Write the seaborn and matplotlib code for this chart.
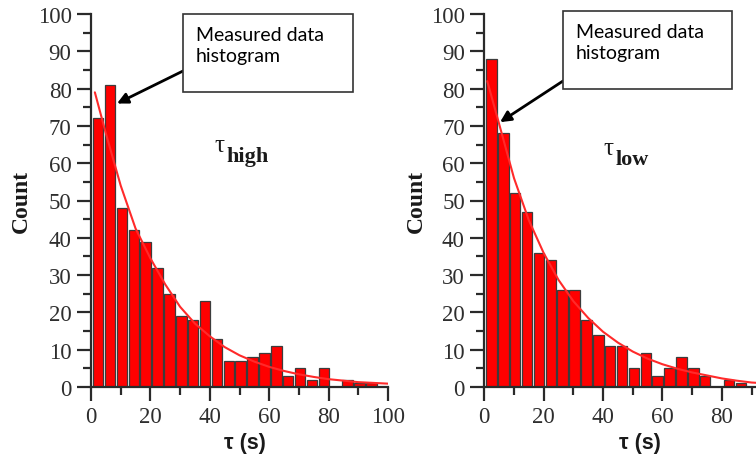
import numpy as np
import pandas as pd
import matplotlib
matplotlib.use("Agg")
import matplotlib.pyplot as plt
from matplotlib.patches import Rectangle
import seaborn as sns

# ---------------- data ----------------
bin_width = 4.0
high_counts = [72, 81, 48, 42, 39, 32, 25, 19, 18, 23, 13, 7, 7, 8, 9, 11,
               3, 5, 2, 5, 0, 2, 1, 1]
low_counts = [88, 68, 52, 47, 36, 34, 26, 26, 18, 14, 11, 11, 5, 9, 3, 5,
              8, 5, 3, 0, 2, 1]

high_fit_t = [1.3, 5, 10, 15, 20, 25, 30, 35, 40, 45, 50, 55, 60, 65, 70,
              75, 80, 85, 90, 95, 100]
high_fit_y = [79, 68, 54, 42.5, 34.5, 27.5, 21.5, 17, 13.6, 10.7, 8.5, 6.8,
              5.4, 4.3, 3.4, 2.7, 2.1, 1.7, 1.3, 1.1, 0.9]

low_fit_t = [1.0, 5, 10, 15, 20, 25, 30, 35, 40, 45, 50, 55, 60, 65, 70,
             75, 80, 85, 90, 92]
low_fit_y = [82, 70.5, 56, 44.7, 35.9, 28.7, 23, 18.5, 14.8, 11.9, 9.5, 7.6,
             6.1, 4.9, 3.9, 3.1, 2.3, 1.7, 1.2, 1.1]

x_major = [0, 20, 40, 60, 80, 100]
y_major = [0, 10, 20, 30, 40, 50, 60, 70, 80, 90, 100]
annot_text = "Measured data\nhistogram"
xlabel = "τ (s)"
ylabel = "Count"

# ---------------- styling ----------------
sns.set_theme(style="ticks")
plt.rcParams["font.family"] = ["Liberation Serif", "DejaVu Serif"]

W, H, DPI = 756, 464, 100
fig = plt.figure(figsize=(W / DPI, H / DPI), dpi=DPI)
fig.patch.set_facecolor("white")

def fx(px):
    return px / W

def fy(py):
    return 1 - py / H

ax_l = fig.add_axes([fx(91), fy(388), fx(388) - fx(91), fy(15) - fy(388)])
ax_r = fig.add_axes([fx(484.3), fy(388), fx(756) - fx(484.3), fy(15) - fy(388)])

bar_color = "#ff0000"
edge_color = "#3c3c3c"
line_color = "#ff2a2a"
tick_color = "#2a2a2a"
label_color = "#2e2e2e"

def draw_panel(ax, counts, fit_t, fit_y, xmax, xlab_x, ylab_x):
    n = len(counts)
    edges = [float(v) for v in 0.4 + bin_width * np.arange(n + 1)]
    centers = [(edges[i] + edges[i + 1]) / 2 for i in range(n)]
    df = pd.DataFrame({"t": centers, "count": counts})
    sns.histplot(data=df, x="t", weights="count", bins=edges, shrink=0.88,
                 color=bar_color, edgecolor=edge_color, linewidth=0.9,
                 alpha=1.0, ax=ax, zorder=2)
    sns.lineplot(x=fit_t, y=fit_y, color=line_color, linewidth=1.5, ax=ax,
                 zorder=3)
    ax.set_xlim(0, xmax)
    ax.set_ylim(0, 100)
    ax.set_xticks([v for v in x_major if v <= xmax])
    ax.set_xticks([v + 10 for v in x_major if v + 10 <= xmax], minor=True)
    ax.set_yticks(y_major)
    ax.set_yticks([v + 5 for v in y_major[:-1]], minor=True)
    for s in ["top", "right"]:
        ax.spines[s].set_visible(False)
    for s in ["left", "bottom"]:
        ax.spines[s].set_linewidth(1.6)
        ax.spines[s].set_color(tick_color)
    ax.tick_params(which="major", direction="out", length=10, width=1.6,
                   color=tick_color, labelsize=16.5, labelcolor=label_color,
                   pad=4)
    ax.tick_params(which="minor", direction="out", length=5.5, width=1.6,
                   color=tick_color)
    for lab in ax.get_xticklabels() + ax.get_yticklabels():
        lab.set_fontfamily("Liberation Serif")
    ax.set_xlabel(xlabel, fontsize=15.5, fontweight="bold",
                  fontfamily=["Liberation Sans", "DejaVu Sans"],
                  color="#1a1a1a")
    ax.set_ylabel(ylabel, fontsize=17, fontweight="bold",
                  fontfamily="Liberation Serif", color="#1a1a1a")
    ax.xaxis.set_label_coords(xlab_x, -0.12)
    ax.yaxis.set_label_coords(ylab_x, 0.5)
    ax.set_facecolor("white")
    ax.grid(False)

draw_panel(ax_l, high_counts, high_fit_t, high_fit_y, 100, 0.518, -0.20)
draw_panel(ax_r, low_counts, low_fit_t, low_fit_y, 91.5, 0.573, -0.21)

# ---------------- annotation boxes ----------------
def callout(box_px, text_xy_px, arrow_from_px, ax, tip):
    x0, y0, x1, y1 = box_px
    fig.add_artist(Rectangle((fx(x0), fy(y1)), fx(x1) - fx(x0),
                             fy(y0) - fy(y1), transform=fig.transFigure,
                             facecolor="white", edgecolor="#333333",
                             linewidth=1.2, zorder=5))
    fig.text(fx(text_xy_px[0]), fy(text_xy_px[1]), annot_text,
             fontsize=14, fontfamily=["Lato", "DejaVu Sans"], color="black",
             ha="left", va="top", linespacing=1.3, zorder=6)
    ax.annotate("", xy=tip, xycoords="data",
                xytext=(fx(arrow_from_px[0]), fy(arrow_from_px[1])),
                textcoords="figure fraction",
                arrowprops=dict(arrowstyle="-|>", lw=2, color="black",
                                mutation_scale=16, shrinkA=0, shrinkB=0),
                annotation_clip=False, zorder=6)

callout((183, 15, 353, 93), (196, 27), (183, 72), ax_l, (8.75, 76))
callout((563, 12, 732, 90), (576, 24), (563, 82), ax_r, (5.3, 71))

# ---------------- tau labels ----------------
fig.text(fx(219), fy(146), "τ", fontsize=18, fontfamily="Liberation Serif",
         ha="center", va="center", color="#1a1a1a")
fig.text(fx(226), fy(162), "high", fontsize=16, fontweight="bold",
         fontfamily="Liberation Serif", ha="left", va="baseline",
         color="#1a1a1a")
fig.text(fx(608), fy(149), "τ", fontsize=18, fontfamily="Liberation Serif",
         ha="center", va="center", color="#1a1a1a")
fig.text(fx(616), fy(165), "low", fontsize=16, fontweight="bold",
         fontfamily="Liberation Serif", ha="left", va="baseline",
         color="#1a1a1a")

fig.savefig("out.png", dpi=DPI, facecolor="white")
